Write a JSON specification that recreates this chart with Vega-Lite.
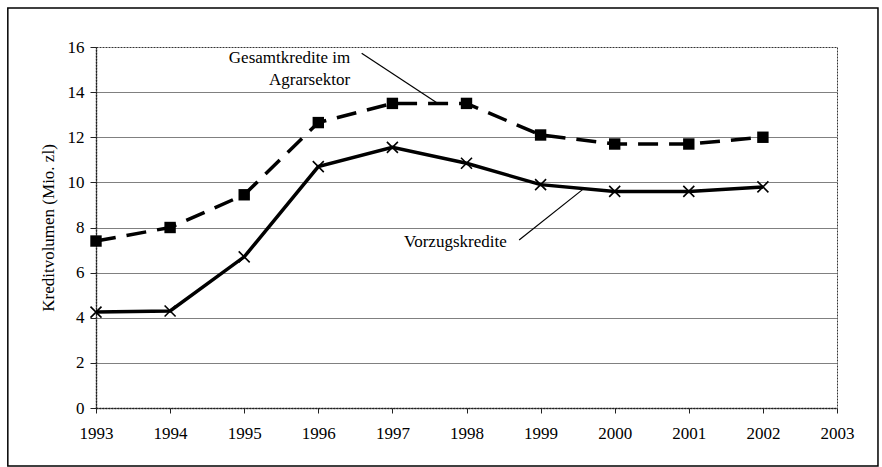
{
  "$schema": "https://vega.github.io/schema/vega-lite/v6.json",
  "width": 741,
  "height": 361,
  "autosize": {"type": "none"},
  "padding": {"left": 96, "top": 47, "right": 45, "bottom": 59},
  "background": "white",
  "config": {
    "font": "Liberation Serif",
    "view": {"stroke": "#333", "strokeDash": [2, 1], "strokeWidth": 1},
    "axis": {
      "labelFont": "Liberation Serif",
      "titleFont": "Liberation Serif",
      "labelFontSize": 17,
      "titleFontSize": 17,
      "labelColor": "black",
      "titleColor": "black",
      "titleFontWeight": "normal",
      "domainColor": "#222",
      "domainDash": [2, 1],
      "domainWidth": 1.5,
      "tickColor": "#222"
    },
    "text": {"font": "Liberation Serif"}
  },
  "layer": [
    {
      "data": {"values": [{"n": 1}]},
      "mark": {"type": "rect", "filled": false, "stroke": "black", "strokeWidth": 1.5, "clip": false},
      "encoding": {
        "x": {"datum": 1991.81, "type": "quantitative", "scale": {"domain": [1993, 2003], "nice": false, "zero": false}},
        "x2": {"datum": 2003.553},
        "y": {"datum": 17.73, "type": "quantitative", "scale": {"domain": [0, 16], "nice": false}},
        "y2": {"datum": -2.57}
      }
    },
    {
      "data": {"values": [
        {"jahr": 1993, "reihe": "Gesamtkredite im Agrarsektor", "wert": 7.4},
        {"jahr": 1994, "reihe": "Gesamtkredite im Agrarsektor", "wert": 8.0},
        {"jahr": 1995, "reihe": "Gesamtkredite im Agrarsektor", "wert": 9.45},
        {"jahr": 1996, "reihe": "Gesamtkredite im Agrarsektor", "wert": 12.65},
        {"jahr": 1997, "reihe": "Gesamtkredite im Agrarsektor", "wert": 13.5},
        {"jahr": 1998, "reihe": "Gesamtkredite im Agrarsektor", "wert": 13.5},
        {"jahr": 1999, "reihe": "Gesamtkredite im Agrarsektor", "wert": 12.1},
        {"jahr": 2000, "reihe": "Gesamtkredite im Agrarsektor", "wert": 11.7},
        {"jahr": 2001, "reihe": "Gesamtkredite im Agrarsektor", "wert": 11.7},
        {"jahr": 2002, "reihe": "Gesamtkredite im Agrarsektor", "wert": 12.0},
        {"jahr": 1993, "reihe": "Vorzugskredite", "wert": 4.25},
        {"jahr": 1994, "reihe": "Vorzugskredite", "wert": 4.3},
        {"jahr": 1995, "reihe": "Vorzugskredite", "wert": 6.7},
        {"jahr": 1996, "reihe": "Vorzugskredite", "wert": 10.7},
        {"jahr": 1997, "reihe": "Vorzugskredite", "wert": 11.55},
        {"jahr": 1998, "reihe": "Vorzugskredite", "wert": 10.85},
        {"jahr": 1999, "reihe": "Vorzugskredite", "wert": 9.9},
        {"jahr": 2000, "reihe": "Vorzugskredite", "wert": 9.6},
        {"jahr": 2001, "reihe": "Vorzugskredite", "wert": 9.6},
        {"jahr": 2002, "reihe": "Vorzugskredite", "wert": 9.8}
      ]},
      "encoding": {
        "x": {
          "field": "jahr",
          "type": "quantitative",
          "scale": {"domain": [1993, 2003], "nice": false, "zero": false},
          "axis": {
            "title": null,
            "values": [1993, 1994, 1995, 1996, 1997, 1998, 1999, 2000, 2001, 2002, 2003],
            "format": "d",
            "labelFont": "Liberation Serif",
            "labelFontSize": 17,
            "grid": false,
            "tickSize": 5,
            "labelPadding": 12,
            "labelFlush": false,
            "labelOverlap": false
          }
        },
        "y": {
          "field": "wert",
          "type": "quantitative",
          "scale": {"domain": [0, 16], "nice": false},
          "axis": {
            "title": "Kreditvolumen (Mio. zl)",
            "titleFont": "Liberation Serif",
            "titlePadding": 10,
            "values": [0, 0.5, 1, 1.5, 2, 2.5, 3, 3.5, 4, 4.5, 5, 5.5, 6, 6.5, 7, 7.5, 8, 8.5, 9, 9.5, 10, 10.5, 11, 11.5, 12, 12.5, 13, 13.5, 14, 14.5, 15, 15.5, 16],
            "format": "d",
            "labelFont": "Liberation Serif",
            "labelFontSize": 17,
            "labelExpr": "datum.value % 2 === 0 ? datum.label : ''",
            "tickSize": {"condition": {"test": "datum.value % 2 === 0", "value": 6}, "value": 3},
            "labelPadding": 6,
            "labelOverlap": false,
            "labelFlush": false,
            "grid": true,
            "gridColor": "#808080",
            "gridWidth": 1.2,
            "gridOpacity": {"condition": {"test": "datum.value % 2 === 0 && datum.value > 0 && datum.value < 16", "value": 1}, "value": 0}
          }
        }
      },
      "layer": [
        {
          "transform": [{"filter": "datum.reihe === 'Gesamtkredite im Agrarsektor'"}],
          "mark": {"type": "line", "color": "black", "strokeWidth": 3.5, "strokeDash": [20, 11]}
        },
        {
          "transform": [{"filter": "datum.reihe === 'Vorzugskredite'"}],
          "mark": {"type": "line", "color": "black", "strokeWidth": 3.5}
        },
        {
          "transform": [{"filter": "datum.reihe === 'Gesamtkredite im Agrarsektor'"}],
          "mark": {"type": "point", "shape": "square", "filled": true, "color": "black", "size": 130, "opacity": 1}
        },
        {
          "transform": [{"filter": "datum.reihe === 'Vorzugskredite'"}],
          "mark": {"type": "point", "shape": "M-1,-1L1,1M-1,1L1,-1", "filled": false, "stroke": "black", "strokeWidth": 1.6, "size": 121, "opacity": 1}
        }
      ]
    },
    {
      "data": {"values": [{"n": 1}]},
      "mark": {"type": "rule", "color": "black", "strokeWidth": 1.2, "clip": false},
      "encoding": {
        "x": {"datum": 1996.585, "type": "quantitative"},
        "y": {"datum": 15.72, "type": "quantitative"},
        "x2": {"datum": 1997.615},
        "y2": {"datum": 13.5}
      }
    },
    {
      "data": {"values": [{"n": 1}]},
      "mark": {"type": "rule", "color": "black", "strokeWidth": 1.2, "clip": false},
      "encoding": {
        "x": {"datum": 1998.71, "type": "quantitative"},
        "y": {"datum": 7.45, "type": "quantitative"},
        "x2": {"datum": 1999.57},
        "y2": {"datum": 9.69}
      }
    },
    {
      "data": {"values": [{"n": 1}]},
      "mark": {"type": "text", "align": "right", "baseline": "middle", "font": "Liberation Serif", "fontSize": 17, "lineHeight": 22, "color": "black", "clip": false},
      "encoding": {
        "x": {"datum": 1996.43, "type": "quantitative"},
        "y": {"datum": 15.51, "type": "quantitative"},
        "text": {"value": ["Gesamtkredite im", "Agrarsektor"]}
      }
    },
    {
      "data": {"values": [{"n": 1}]},
      "mark": {"type": "text", "align": "center", "baseline": "middle", "font": "Liberation Serif", "fontSize": 17, "color": "black", "clip": false},
      "encoding": {
        "x": {"datum": 1997.85, "type": "quantitative"},
        "y": {"datum": 7.37, "type": "quantitative"},
        "text": {"value": "Vorzugskredite"}
      }
    }
  ]
}
